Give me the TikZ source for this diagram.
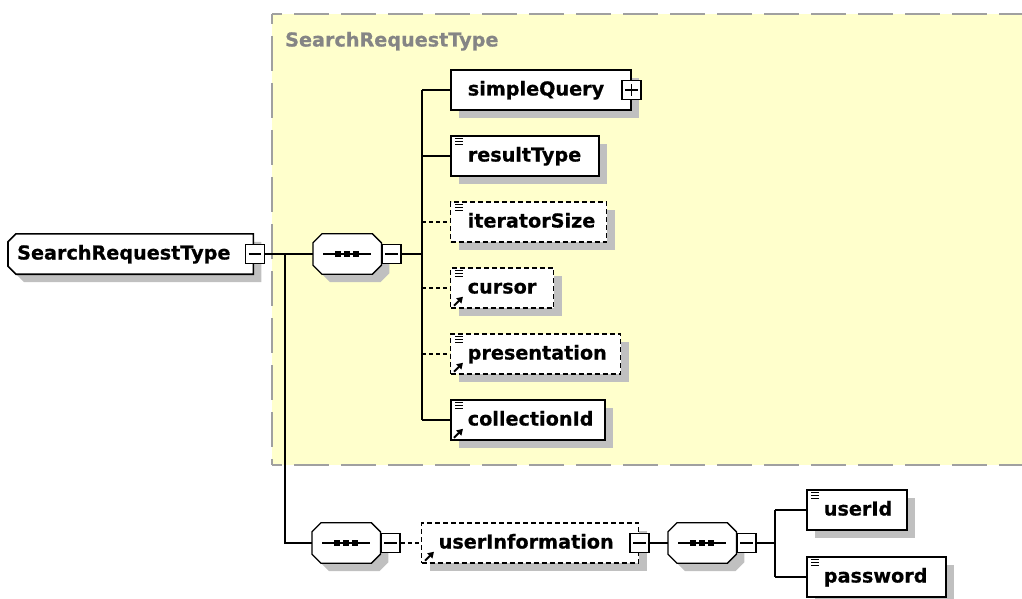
\documentclass[tikz,border=0pt]{standalone}
\usepackage{fontspec}
\setmainfont{DejaVu Sans}[BoldFeatures={FakeBold=0.6}]
\usetikzlibrary{shadows,calc,arrows.meta}
\pgfdeclarelayer{bg}
\pgfdeclarelayer{shp}
\pgfsetlayers{bg,shp,main}
\definecolor{paneyellow}{HTML}{FFFFCC}
\definecolor{panegray}{HTML}{A0A0A0}
\definecolor{titlegray}{HTML}{858585}
\definecolor{shadowgray}{HTML}{C0C0C0}
\newcommand\boxtext[2]{\makebox[#1][l]{#2}}
\newcommand\eqicon[1]{\foreach \k in {3,6,9}{\draw[line width=1.3pt] ($(#1.north west)+(5,\k)$) -- ++(8,0);}}
\newcommand\refarrow[1]{\draw[line width=2pt,-{Triangle[length=6pt,width=7pt]}] ($(#1.south west)+(4,-3)$) -- ++(9,-9);}
\newcommand\minussign[1]{\draw[line width=1.2pt] ($(#1.west)+(4,0)$) -- ($(#1.east)+(-4,0)$);}
\newcommand\plussign[1]{\minussign{#1}\draw[line width=1.2pt] ($(#1.north)+(0,4)$) -- ($(#1.south)+(0,-4)$);}
\newcommand\compshape[1]{%
  \draw[line width=1.3pt, fill=white, shadowed] ($(#1.north west)+(9,0)$) -- ($(#1.north east)+(-9,0)$) -- ($(#1.north east)+(0,9)$) -- ($(#1.south east)+(0,-9)$) -- ($(#1.south east)+(-9,0)$) -- ($(#1.south west)+(9,0)$) -- ($(#1.south west)+(0,-9)$) -- ($(#1.north west)+(0,9)$) -- cycle;
  \draw[line width=1.3pt] ($(#1.west)+(10,0)$) -- ($(#1.east)+(-10,0)$);
  \foreach \d in {-9,0,9}{\fill ($(#1.center)+(\d,0)$) +(-3.2,-3.2) rectangle +(3.2,3.2);}}
\begin{document}
\begin{tikzpicture}[x=1pt,y=-1pt,
  font=\fontsize{19.2}{22}\selectfont\bfseries,
  shadowed/.style={general shadow={fill=shadowgray, shadow xshift=8pt, shadow yshift=-8pt}},
  elem/.style={draw, line width=1.6pt, fill=white, shadowed, anchor=west, minimum height=40pt, inner xsep=17pt, inner ysep=0pt, text height=14pt, text depth=3pt},
  optelem/.style={elem, dash pattern=on 5pt off 3pt, line width=1.4pt},
  pm/.style={draw, line width=1.4pt, fill=white, minimum size=19pt, inner sep=0pt},
  comp/.style={minimum width=68pt, minimum height=40pt, inner sep=0pt, anchor=west},
  conn/.style={line width=1.3pt},
  optconn/.style={conn, dash pattern=on 4pt off 3pt},
  panedash/.style={panegray, line width=2pt, dash pattern=on 35pt off 12pt, dash phase=25pt}
]
\useasboundingbox (0,0) rectangle (1022,599);
% pane
\begin{pgfonlayer}{bg}
\fill[paneyellow] (272,14) rectangle (1030,465);
\draw[panedash] (272,14) -- (1030,14);
\draw[panedash] (272,465) -- (1030,465);
\draw[panedash] (272,14) -- (272,465);
\end{pgfonlayer}
\node[anchor=west, text=titlegray, inner sep=0pt, text height=14pt, text depth=3pt] (title) at (285,41) {SearchRequestType};
% root
\node[anchor=west, inner xsep=9pt, inner ysep=0pt, minimum height=40pt, text height=14pt, text depth=3pt] (root) at (8,254) {\boxtext{227pt}{SearchRequestType}};
\begin{pgfonlayer}{shp}
\draw[line width=1.6pt, fill=white, shadowed] ($(root.north west)+(8,0)$) -- (root.north east) -- (root.south east) -- ($(root.south west)+(8,0)$) -- ($(root.south west)+(0,-8)$) -- ($(root.north west)+(0,8)$) -- cycle;
\end{pgfonlayer}
\node[pm] (rootm) at ($(root.east)+(1.5,0)$) {};
\minussign{rootm}
% first sequence
\node[comp] (c1) at (313,254) {};
\compshape{c1}
\node[pm, anchor=west] (c1m) at (c1.east) {};
\minussign{c1m}
\coordinate (b1) at (422,254);
\coordinate (j1) at (285,254);
% children
\node[elem] (sq) at (450,90) {\boxtext{146pt}{simpleQuery}};
\node[pm] (sqp) at (sq.east) {};
\plussign{sqp}
\node[elem] (rt) at (450,156) {\boxtext{114pt}{resultType}};
\eqicon{rt}
\node[optelem] (it) at (450,222) {\boxtext{122pt}{iteratorSize}};
\eqicon{it}
\node[optelem] (cu) at (450,288) {\boxtext{69pt}{cursor}};
\eqicon{cu}\refarrow{cu}
\node[optelem] (pr) at (450,354) {\boxtext{136pt}{presentation}};
\eqicon{pr}\refarrow{pr}
\node[elem] (ci) at (450,420) {\boxtext{120pt}{collectionId}};
\eqicon{ci}\refarrow{ci}
% connectors
\draw[conn] (rootm.east) -- (c1.west);
\draw[conn] (c1m.east) -- (b1);
\draw[conn] (b1 |- sq.west) -- (b1 |- ci.west);
\draw[conn] (b1 |- sq.west) -- (sq.west);
\draw[conn] (b1 |- rt.west) -- (rt.west);
\draw[optconn] (b1 |- it.west) -- (it.west);
\draw[optconn] (b1 |- cu.west) -- (cu.west);
\draw[optconn] (b1 |- pr.west) -- (pr.west);
\draw[conn] (b1 |- ci.west) -- (ci.west);
% second sequence
\node[comp] (c2) at (312,543) {};
\compshape{c2}
\node[pm, anchor=west] (c2m) at (c2.east) {};
\minussign{c2m}
\draw[conn] (j1) -- (j1 |- c2.west) -- (c2.west);
\node[optelem] (ui) at (421,543) {\boxtext{183pt}{userInformation}};
\refarrow{ui}
\node[pm] (uim) at (ui.east) {};
\minussign{uim}
\draw[optconn] (c2m.east) -- (ui.west);
% third sequence
\node[comp] (c3) at (668,543) {};
\compshape{c3}
\node[pm, anchor=west] (c3m) at (c3.east) {};
\minussign{c3m}
\draw[conn] (uim.east) -- (c3.west);
\coordinate (b2) at (775,543);
\draw[conn] (c3m.east) -- (b2);
\node[elem] (ud) at (806,510) {\boxtext{66pt}{userId}};
\eqicon{ud}
\node[elem] (pw) at (806,577) {\boxtext{105pt}{password}};
\eqicon{pw}
\draw[conn] (b2 |- ud.west) -- (b2 |- pw.west);
\draw[conn] (b2 |- ud.west) -- (ud.west);
\draw[conn] (b2 |- pw.west) -- (pw.west);
\end{tikzpicture}
\end{document}
